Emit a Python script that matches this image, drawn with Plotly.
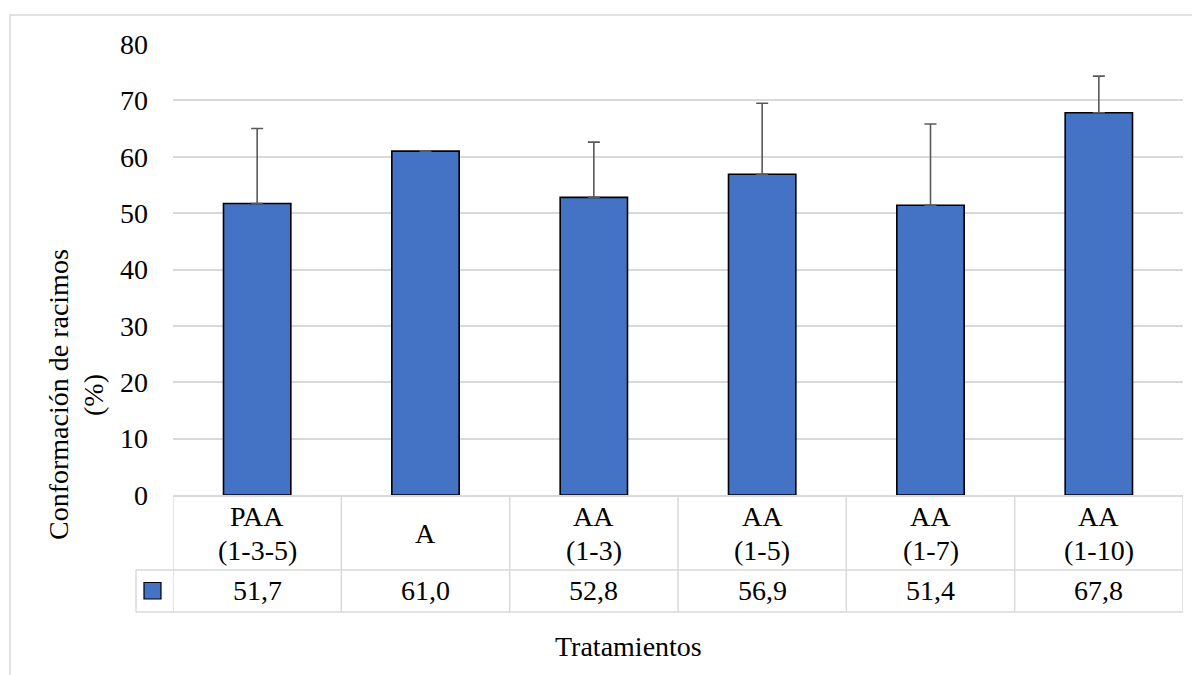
import plotly.graph_objects as go

categories = ["PAA\n(1-3-5)", "A", "AA\n(1-3)", "AA\n(1-5)", "AA\n(1-7)", "AA\n(1-10)"]
values = [51.7, 61.0, 52.8, 56.9, 51.4, 67.8]
errors = [13.3, 0.05, 9.8, 12.6, 14.4, 6.5]
value_labels = ["51,7", "61,0", "52,8", "56,9", "51,4", "67,8"]
y_ticks = [0, 10, 20, 30, 40, 50, 60, 70, 80]
y_title_lines = ["Conformación de racimos", "(%)"]
x_title = "Tratamientos"

W, H = 1200, 675
OFF = 8  # page body margin
SL, SR, ST, SB = 173, 1183, 44, 495
L, R, T, B = SL - OFF, SR - OFF, ST - OFF, SB - OFF
FONT = "'Times New Roman', 'Liberation Serif', 'DejaVu Serif', serif"
FS = 28
GRID = "#D9D9D9"
BLUE = "#4472C4"


def xp(px):
    return (px - SL) / (SR - SL)


def yp(py):
    return (SB - py) / (SB - ST)


n = len(categories)
xs = list(range(n))

fig = go.Figure()
fig.add_trace(go.Bar(
    x=xs, y=values, width=0.4,
    marker=dict(color=BLUE, line=dict(color="black", width=1.6)),
    error_y=dict(type="data", symmetric=False, array=errors, arrayminus=[0] * n,
                 visible=True, color="#595959", thickness=1.6, width=6),
    showlegend=False, hoverinfo="skip",
))

shapes = []
line = dict(color=GRID, width=1.5)
row1_bottom = 570
row2_bottom = 612
key_left = 136
for i in range(n + 1):
    shapes.append(dict(type="line", xref="x", yref="paper", x0=i - 0.5, x1=i - 0.5,
                       y0=yp(SB), y1=yp(row2_bottom), line=line))
shapes.append(dict(type="line", xref="paper", yref="paper", x0=xp(key_left), x1=1,
                   y0=yp(row1_bottom), y1=yp(row1_bottom), line=line))
shapes.append(dict(type="line", xref="paper", yref="paper", x0=xp(key_left), x1=1,
                   y0=yp(row2_bottom), y1=yp(row2_bottom), line=line))
shapes.append(dict(type="line", xref="paper", yref="paper", x0=xp(key_left), x1=xp(key_left),
                   y0=yp(row1_bottom), y1=yp(row2_bottom), line=line))
shapes.append(dict(type="rect", xref="paper", yref="paper", x0=xp(144), x1=xp(161),
                   y0=yp(582.5), y1=yp(599), fillcolor=BLUE, line=dict(color="black", width=1.2)))
shapes.append(dict(type="rect", xref="paper", yref="paper", x0=xp(10), x1=xp(1240),
                   y0=yp(15), y1=yp(720), line=line, layer="below"))

annotations = []
font = dict(family=FONT, size=FS, color="black")
for i, cat in enumerate(categories):
    parts = cat.split("\n")
    if len(parts) == 1:
        annotations.append(dict(x=i, y=yp(533), xref="x", yref="paper", text=parts[0],
                                showarrow=False, font=font, xanchor="center", yanchor="middle"))
    else:
        annotations.append(dict(x=i, y=yp(516), xref="x", yref="paper", text=parts[0],
                                showarrow=False, font=font, xanchor="center", yanchor="middle"))
        annotations.append(dict(x=i, y=yp(550), xref="x", yref="paper", text=parts[1],
                                showarrow=False, font=font, xanchor="center", yanchor="middle"))
    annotations.append(dict(x=i, y=yp(590), xref="x", yref="paper", text=value_labels[i],
                            showarrow=False, font=font, xanchor="center", yanchor="middle"))

annotations.append(dict(x=xp(628), y=yp(646), xref="paper", yref="paper", text=x_title,
                        showarrow=False, font=font, xanchor="center", yanchor="middle"))
annotations.append(dict(x=xp(58), y=yp(395), xref="paper", yref="paper", text=y_title_lines[0],
                        showarrow=False, font=font, textangle=-90, xanchor="center", yanchor="middle"))
annotations.append(dict(x=xp(93), y=yp(395), xref="paper", yref="paper", text=y_title_lines[1],
                        showarrow=False, font=font, textangle=-90, xanchor="center", yanchor="middle"))

fig.update_layout(
    width=W, height=H,
    margin=dict(l=L, r=W - R, t=T, b=H - B, pad=0),
    paper_bgcolor="white", plot_bgcolor="white",
    font=dict(family=FONT, size=FS, color="black"),
    shapes=shapes, annotations=annotations,
    xaxis=dict(range=[-0.5, n - 0.5], showticklabels=False, showgrid=False, zeroline=False,
               showline=True, linecolor=GRID, linewidth=1.5, ticks="", fixedrange=True),
    yaxis=dict(range=[0, 80], tickvals=y_ticks, showgrid=True, gridcolor=GRID, gridwidth=1.5,
               zeroline=False, showline=False, ticks="", ticklabelstandoff=24,
               tickfont=dict(family=FONT, size=FS, color="black")),
    bargap=0.6,
)

fig.write_html("out.html")
